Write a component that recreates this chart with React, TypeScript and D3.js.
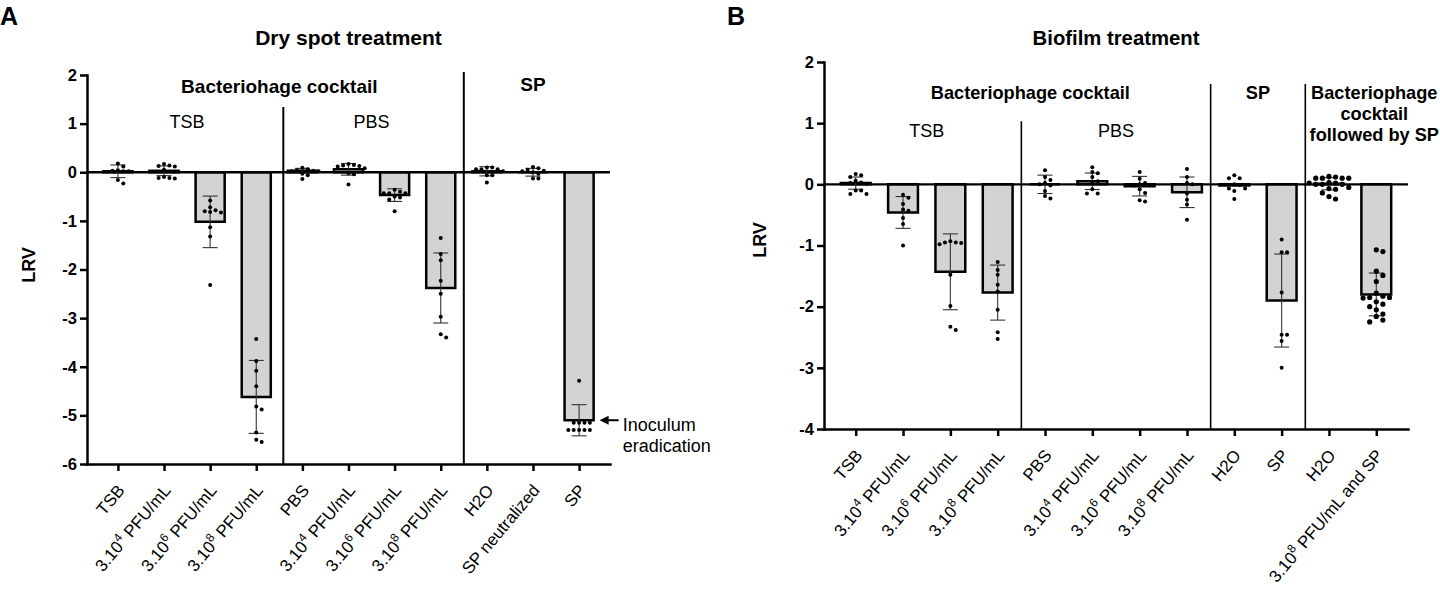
import React, { useRef, useEffect } from 'react';
import * as d3 from 'd3';

// Panel A - dry spot treatment
const dryCategories = ['TSB', '3.10^4 PFU/mL', '3.10^6 PFU/mL', '3.10^8 PFU/mL', 'PBS', '3.10^4 PFU/mL', '3.10^6 PFU/mL', '3.10^8 PFU/mL', 'H2O', 'SP neutralized', 'SP'];
const dryMeans = [0.02, 0.03, -1.02, -4.62, 0.03, 0.06, -0.47, -2.38, 0.02, 0.0, -5.10];
const drySd = [0.13, 0.1, 0.53, 0.75, 0.05, 0.12, 0.13, 0.72, 0.095, 0.08, 0.32];
const dryPoints: number[][] = [
  [0.12, 0.18, 0.03, 0.02, 0.04, 0.02, -0.16, -0.23],
  [0.13, 0.14, 0.12, 0.17, 0.05, -0.13, -0.10, -0.12, -0.12],
  [-0.58, -0.78, -0.83, -0.82, -0.72, -0.80, -1.13, -1.32, -2.32],
  [-3.43, -3.88, -4.08, -4.40, -4.82, -4.88, -5.35, -5.55, -5.50],
  [0.09, 0.06, 0.04, 0.03, 0.02, 0.02, -0.03, -0.06, -0.14],
  [0.13, 0.14, 0.15, 0.17, 0.12, 0.08, -0.04, -0.02, -0.25],
  [-0.36, -0.43, -0.43, -0.43, -0.40, -0.50, -0.56, -0.52, -0.80],
  [-1.35, -1.68, -1.81, -2.23, -2.50, -2.97, -3.40, -3.33],
  [0.06, 0.1, 0.1, 0.06, 0.06, 0.02, -0.06, -0.06, -0.21],
  [0.0, 0.05, 0.08, 0.03, 0.11, -0.13, -0.13, -0.03, 0.02],
  [-4.29, -5.15, -5.15, -5.15, -5.15, -5.30, -5.30, -5.30, -5.30, -5.30],
];
const dryTicks = [2, 1, 0, -1, -2, -3, -4, -5, -6];

// Panel B - biofilm treatment
const bioCategories = ['TSB', '3.10^4 PFU/mL', '3.10^6 PFU/mL', '3.10^8 PFU/mL', 'PBS', '3.10^4 PFU/mL', '3.10^6 PFU/mL', '3.10^8 PFU/mL', 'H2O', 'SP', 'H2O', '3.10^8 PFU/mL and SP'];
const bioMeans = [0.02, -0.46, -1.43, -1.77, 0.0, 0.05, -0.03, -0.13, -0.02, -1.90, 0.01, -1.80];
const bioSd = [0.1, 0.26, 0.62, 0.45, 0.15, 0.135, 0.16, 0.25, 0, 0.76, 0.1, 0.35];
const bioPoints: number[][] = [
  [0.17, 0.15, 0.12, 0.06, 0.03, 0.02, 0.01, -0.10, -0.10, -0.16, -0.16],
  [-0.17, -0.22, -0.32, -0.41, -0.43, -0.55, -0.65, -1.0],
  [-0.93, -0.95, -0.96, -0.95, -0.98, -1.48, -1.99, -2.33, -2.38],
  [-1.27, -1.40, -1.48, -1.64, -1.75, -2.05, -2.42, -2.53],
  [0.23, 0.12, 0.07, 0.02, 0.0, -0.02, -0.11, -0.19, -0.23],
  [0.28, 0.20, 0.18, 0.12, 0.05, 0.02, -0.08, -0.15, -0.15],
  [0.20, 0.09, 0.02, 0.0, -0.02, -0.08, -0.14, -0.26, -0.28],
  [0.25, 0.12, 0.02, 0.0, -0.15, -0.25, -0.33, -0.58],
  [0.15, 0.10, 0.10, 0.0, -0.01, -0.07, -0.07, -0.11, -0.24],
  [-0.90, -1.11, -1.11, -1.77, -2.46, -2.46, -2.56, -3.0],
  [0.12, 0.10, 0.10, 0.10, 0.10, 0.13, 0.03, 0.02, 0.02, 0.0, 0.0, 0.0, -0.05, -0.07, -0.08, -0.14, -0.20, -0.24],
  [-1.07, -1.10, -1.42, -1.49, -1.59, -1.78, -1.83, -1.85, -1.85, -1.86, -1.92, -1.96, -2.00, -2.05, -2.12, -2.16, -2.22, -2.25],
];
const bioTicks = [2, 1, 0, -1, -2, -3, -4];

const FONT = '"Liberation Sans", Arial, sans-serif';

interface Group { lines: string[]; from: number; to: number; shift: number; y: number; bold: boolean; }
interface Separator { after: number; shift: number; top: number; width: number; }
interface PanelConfig {
  letter: string; letterX: number;
  title: string; titleSize: number; groupSize: number;
  categories: string[]; means: number[]; sd: number[]; points: number[][];
  ticks: number[];
  left: number; right: number; top: number; bottom: number;
  lrvX: number; lrvY: number;
  bigDots: number[];
  separators: Separator[];
  groups: Group[];
  arrow?: { value: number; lines: string[] };
}

const panels: PanelConfig[] = [
  {
    letter: 'A', letterX: 0, title: 'Dry spot treatment', titleSize: 21, groupSize: 19,
    categories: dryCategories, means: dryMeans, sd: drySd, points: dryPoints, ticks: dryTicks,
    left: 87, right: 610, top: 75, bottom: 464, lrvX: 29, lrvY: 265,
    bigDots: [],
    separators: [
      { after: 3, shift: 4, top: 1.34, width: 2 },
      { after: 7, shift: 0, top: 2.06, width: 2 },
    ],
    groups: [
      { lines: ['Bacteriohage cocktail'], from: 0, to: 7, shift: 0, y: 93, bold: true },
      { lines: ['TSB'], from: 0, to: 3, shift: 0, y: 128, bold: false },
      { lines: ['PBS'], from: 4, to: 7, shift: 0, y: 128, bold: false },
      { lines: ['SP'], from: 8, to: 10, shift: 0, y: 91, bold: true },
    ],
    arrow: { value: -5.1, lines: ['Inoculum', 'eradication'] },
  },
  {
    letter: 'B', letterX: 727, title: 'Biofilm treatment', titleSize: 20.3, groupSize: 18.2,
    categories: bioCategories, means: bioMeans, sd: bioSd, points: bioPoints, ticks: bioTicks,
    left: 824, right: 1408, top: 62, bottom: 429, lrvX: 760, lrvY: 240,
    bigDots: [10, 11],
    separators: [
      { after: 3, shift: 0, top: 1.03, width: 1.6 },
      { after: 7, shift: 0, top: 1.64, width: 1.6 },
      { after: 9, shift: 0, top: 1.64, width: 1.6 },
    ],
    groups: [
      { lines: ['Bacteriophage cocktail'], from: 0, to: 7, shift: 9, y: 99, bold: true },
      { lines: ['TSB'], from: 0, to: 3, shift: 0, y: 137, bold: false },
      { lines: ['PBS'], from: 4, to: 7, shift: 0, y: 137, bold: false },
      { lines: ['SP'], from: 8, to: 9, shift: 0, y: 99, bold: true },
      { lines: ['Bacteriophage', 'cocktail', 'followed by SP'], from: 11, to: 11, shift: -2, y: 99, bold: true },
    ],
  },
];

// simple beeswarm: spread points of similar value sideways
function swarm(values: number[], y: (v: number) => number, r: number): number[] {
  const order = values.map((_, i) => i).sort((a, b) => values[b] - values[a]);
  const placed: { x: number; y: number }[] = [];
  const out = new Array(values.length).fill(0);
  const step = r * 2 + 1.4;
  for (const i of order) {
    const py = y(values[i]);
    for (let k = 0; k < 60; k++) {
      const off = k === 0 ? 0 : (k % 2 === 1 ? 1 : -1) * Math.ceil(k / 2) * step;
      const hit = placed.some(p => Math.hypot(p.x - off, p.y - py) < r * 2 + 0.8);
      if (!hit) { out[i] = off; placed.push({ x: off, y: py }); break; }
    }
  }
  return out;
}

function drawPanel(svg: d3.Selection<SVGSVGElement, unknown, null, undefined>, c: PanelConfig) {
  const n = c.categories.length;
  const x = d3.scalePoint<number>().domain(d3.range(n)).range([c.left, c.right]).padding(0.67);
  const y = d3.scaleLinear().domain([c.ticks[c.ticks.length - 1], c.ticks[0]]).range([c.bottom, c.top]);
  const barW = x.step() * 0.63;
  const g = svg.append('g').attr('font-family', FONT);

  g.append('text').attr('x', c.letterX).attr('y', 25).attr('font-size', 25).attr('font-weight', 'bold').text(c.letter);
  g.append('text').attr('x', (c.left + c.right) / 2).attr('y', 45).attr('text-anchor', 'middle')
    .attr('font-size', c.titleSize).attr('font-weight', 'bold').text(c.title);

  c.groups.forEach(gr => {
    const cx = ((x(gr.from) as number) + (x(gr.to) as number)) / 2 + gr.shift;
    gr.lines.forEach((line, li) => {
      g.append('text').attr('x', cx).attr('y', gr.y + li * 21).attr('text-anchor', 'middle')
        .attr('font-size', gr.bold ? c.groupSize : 18).attr('font-weight', gr.bold ? 'bold' : 'normal').text(line);
    });
  });

  // bars
  g.append('g').selectAll('path').data(c.means).join('path')
    .attr('d', (m, i) => {
      const x0 = (x(i) as number) - barW / 2;
      return `M${x0},${y(0)}H${x0 + barW}V${y(m)}H${x0}Z`;
    })
    .attr('fill', '#d3d3d3').attr('stroke', '#000').attr('stroke-width', 2.5);

  // zero line
  g.append('line').attr('x1', c.left).attr('x2', c.right).attr('y1', y(0)).attr('y2', y(0))
    .attr('stroke', '#000').attr('stroke-width', 2.3);

  // separators
  c.separators.forEach(s => {
    const sx = ((x(s.after) as number) + (x(s.after + 1) as number)) / 2 + s.shift;
    g.append('line').attr('x1', sx).attr('x2', sx).attr('y1', y(s.top)).attr('y2', c.bottom)
      .attr('stroke', '#000').attr('stroke-width', s.width);
  });

  // error bars
  const eb = g.append('g').attr('stroke', '#333').attr('stroke-width', 1.1);
  c.means.forEach((m, i) => {
    if (!c.sd[i]) return;
    const cx = x(i) as number;
    const hi = y(m + c.sd[i]);
    const lo = y(m - c.sd[i]);
    eb.append('line').attr('x1', cx).attr('x2', cx).attr('y1', hi).attr('y2', lo);
    [hi, lo].forEach(yy => eb.append('line').attr('x1', cx - 7.5).attr('x2', cx + 7.5).attr('y1', yy).attr('y2', yy));
  });

  // dots
  const dots = g.append('g').attr('fill', '#000');
  c.points.forEach((vals, i) => {
    const r = c.bigDots.includes(i) ? 2.6 : 2;
    const offs = swarm(vals, y, r);
    vals.forEach((v, j) => {
      dots.append('circle').attr('cx', (x(i) as number) + offs[j]).attr('cy', y(v)).attr('r', r);
    });
  });

  // y axis
  const ya = g.append('g').attr('transform', `translate(${c.left},0)`)
    .call(d3.axisLeft(y).tickValues(c.ticks).tickSize(7).tickSizeOuter(0).tickPadding(3).tickFormat(d => String(d)));
  ya.select('.domain').attr('stroke-width', 2.5).attr('stroke-linecap', 'square');
  ya.selectAll('.tick line').attr('stroke-width', 2.5);
  ya.selectAll('.tick text').attr('font-family', FONT).attr('font-size', 16.5).attr('font-weight', 'bold').attr('fill', '#000');

  g.append('text').attr('transform', `translate(${c.lrvX},${c.lrvY}) rotate(-90)`).attr('text-anchor', 'middle')
    .attr('dy', '0.35em').attr('font-size', 18).attr('font-weight', 'bold').text('LRV');

  // x axis
  const xa = g.append('g').attr('transform', `translate(0,${c.bottom})`)
    .call(d3.axisBottom(x).tickSize(7).tickSizeOuter(0).tickFormat(() => ''));
  xa.select('.domain').attr('stroke-width', 2.5).attr('stroke-linecap', 'square');
  xa.selectAll('.tick line').attr('stroke-width', 2.5);

  c.categories.forEach((label, i) => {
    const t = g.append('text')
      .attr('transform', `translate(${(x(i) as number) + 3},${c.bottom + 23}) rotate(-50)`)
      .attr('text-anchor', 'end').attr('dy', '0.35em').attr('font-size', 17);
    const m = label.match(/^(.*?)\^(\d+)(.*)$/);
    if (m) {
      t.append('tspan').text(m[1]);
      t.append('tspan').attr('dy', -7).attr('font-size', 12).text(m[2]);
      t.append('tspan').attr('dy', 7).text(m[3]);
    } else {
      t.text(label);
    }
  });

  if (c.arrow) {
    const ay = y(c.arrow.value);
    const tip = (x(n - 1) as number) + barW / 2 + 6;
    g.append('line').attr('x1', tip + 6).attr('x2', tip + 19).attr('y1', ay).attr('y2', ay)
      .attr('stroke', '#000').attr('stroke-width', 2);
    g.append('path').attr('d', `M${tip},${ay}L${tip + 9},${ay - 4.5}L${tip + 9},${ay + 4.5}Z`).attr('fill', '#000');
    c.arrow.lines.forEach((line, li) => {
      g.append('text').attr('x', tip + 23).attr('y', ay + 11 + li * 21).attr('font-size', 18).text(line);
    });
  }
}

const App: React.FC = () => {
  const svgRef = useRef<SVGSVGElement>(null);

  useEffect(() => {
    if (!svgRef.current) return;
    const svg = d3.select(svgRef.current);
    svg.selectAll('*').remove();
    panels.forEach(p => drawPanel(svg, p));
  }, []);

  return (
    <svg ref={svgRef} width={1440} height={595}
      style={{ position: 'absolute', left: 0, top: 0, background: '#fff', display: 'block' }} />
  );
};

export default App;
